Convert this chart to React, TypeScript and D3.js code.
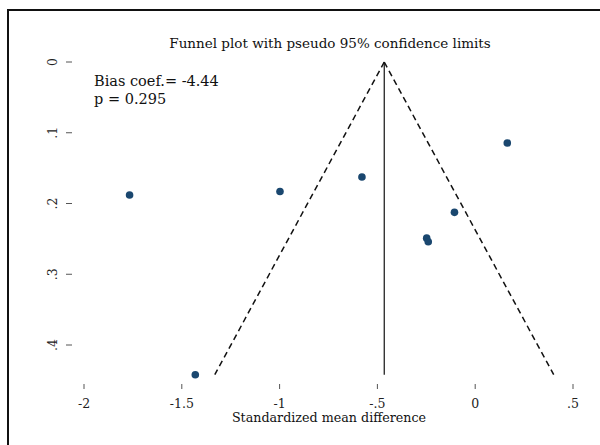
import React from "react";
import * as d3 from "d3";

const effects = [-1.767, -0.998, -0.579, 0.164, -0.106, -0.248, -0.24, -1.431];
const stdErrors = [0.188, 0.183, 0.1625, 0.1145, 0.2125, 0.249, 0.254, 0.442];
const pooled = -0.465;
const xTicks = [-2, -1.5, -1, -0.5, 0, 0.5];
const xTickLabels = ["-2", "-1.5", "-1", "-.5", "0", ".5"];
const yTicks = [0, 0.1, 0.2, 0.3, 0.4];
const yTickLabels = ["0", ".1", ".2", ".3", ".4"];
const titleText = "Funnel plot with pseudo 95% confidence limits";
const xTitle = "Standardized mean difference";
const biasText = "Bias coef.= -4.44";
const pText = "p = 0.295";

export default function App() {
  const W = 600, H = 445;
  const x = d3.scaleLinear().domain([-2, 0.5]).range([84, 573]);
  const y = d3.scaleLinear().domain([0, 0.4]).range([62, 345]);
  const maxSe = d3.max(stdErrors) as number;
  const font = "'DejaVu Serif', serif";
  const line = d3.line<[number, number]>().x(d => x(d[0])).y(d => y(d[1]));
  const leftLine = line([[pooled, 0], [pooled - 1.96 * maxSe, maxSe]]) as string;
  const rightLine = line([[pooled, 0], [pooled + 1.96 * maxSe, maxSe]]) as string;
  return (
    <svg width={W} height={H} style={{ position: "absolute", left: 0, top: 0, background: "#fff" }}>
      <rect x={8} y={10} width={W} height={H} fill="#fff" stroke="#111" strokeWidth={2} />
      <text x={330} y={48} textAnchor="middle" fontFamily={font} fontSize={13.5} fill="#111">{titleText}</text>
      <text x={94} y={86} fontFamily={font} fontSize={14.5} fill="#111">{biasText}</text>
      <text x={94} y={104} fontFamily={font} fontSize={14.5} fill="#111">{pText}</text>
      {yTicks.map((t, i) => (
        <g key={"y" + i}>
          <line x1={66} x2={72} y1={y(t)} y2={y(t)} stroke="#555" strokeWidth={1} />
          <text transform={`translate(57,${y(t)}) rotate(-90)`} textAnchor="middle" fontFamily={font} fontSize={12.5} fill="#222">{yTickLabels[i]}</text>
        </g>
      ))}
      {xTicks.map((t, i) => (
        <g key={"x" + i}>
          <line x1={x(t)} x2={x(t)} y1={384} y2={389} stroke="#555" strokeWidth={1} />
          <text x={x(t)} y={408} textAnchor="middle" fontFamily={font} fontSize={12.5} fill="#222">{xTickLabels[i]}</text>
        </g>
      ))}
      <text x={329} y={422} textAnchor="middle" fontFamily={font} fontSize={12.7} fill="#111">{xTitle}</text>
      <line x1={x(pooled)} x2={x(pooled)} y1={y(0)} y2={y(maxSe)} stroke="#111" strokeWidth={1.2} />
      <path d={leftLine} fill="none" stroke="#111" strokeWidth={1.5} strokeDasharray="6,4" />
      <path d={rightLine} fill="none" stroke="#111" strokeWidth={1.5} strokeDasharray="6,4" />
      {effects.map((e, i) => (
        <circle key={"p" + i} cx={x(e)} cy={y(stdErrors[i])} r={3.8} fill="#1a476f" />
      ))}
    </svg>
  );
}
